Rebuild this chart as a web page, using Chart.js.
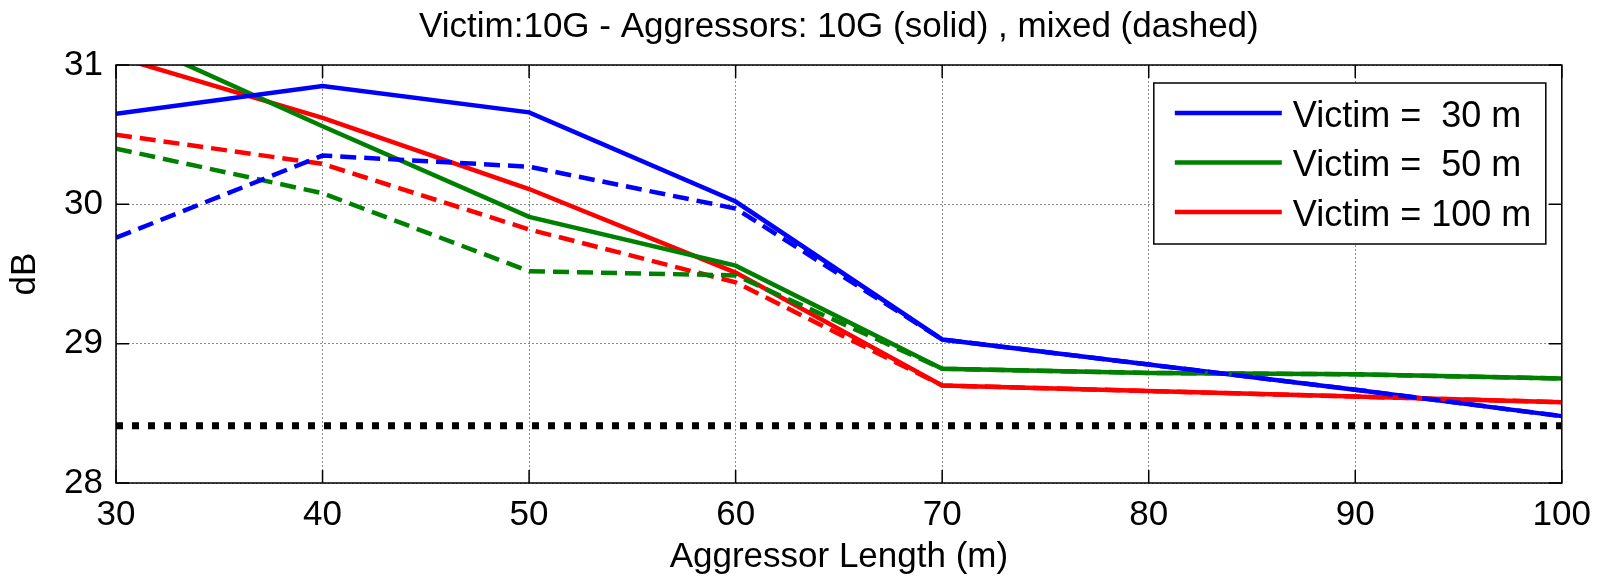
<!DOCTYPE html>
<html>
<head>
<meta charset="utf-8">
<script src="https://cdn.jsdelivr.net/npm/chart.js@4.4.1/dist/chart.umd.min.js"></script>
<style>
html, body { margin: 0; padding: 0; background: #fff; }
#wrap { width: 1602px; height: 578px; }
</style>
</head>
<body>
<div id="wrap"><canvas id="chart" width="1602" height="578"></canvas></div>
<script>
// aggressor length (m)
let lengths = [30, 40, 50, 60, 70, 80, 90, 100];

// 10G aggressors (solid)
let solid30 = [30.65, 30.85, 30.66, 30.02, 29.03, 28.85, 28.67, 28.48];
let solid50 = [31.23, 30.56, 29.91, 29.56, 28.82, 28.79, 28.78, 28.75];
let solid100 = [31.06, 30.62, 30.11, 29.51, 28.70, 28.66, 28.62, 28.58];

// mixed aggressors (dashed)
let mixed30 = [29.76, 30.35, 30.27, 29.97, 29.03, 28.85, 28.67, 28.48];
let mixed50 = [30.40, 30.08, 29.52, 29.49, 28.82, 28.79, 28.78, 28.75];
let mixed100 = [30.50, 30.29, 29.82, 29.44, 28.70, 28.66, 28.62, 28.58];

// limit line (dotted)
let limitLine = [28.41, 28.41, 28.41, 28.41, 28.41, 28.41, 28.41, 28.41];

let xTicks = [30, 40, 50, 60, 70, 80, 90, 100];
let yTicks = [28, 29, 30, 31];

let titleText = 'Victim:10G - Aggressors: 10G (solid) , mixed (dashed)';
let legendLabels = ['Victim =  30 m', 'Victim =  50 m', 'Victim = 100 m'];

const FONT = "'Liberation Sans', Arial, Helvetica, sans-serif";
Chart.defaults.font.family = FONT;
Chart.defaults.color = '#000';

function pts(vals) {
    return vals.map((v, i) => ({ x: lengths[i], y: v }));
}

function line(label, vals, color, dash, order, inLegend) {
    return {
        label: label,
        data: pts(vals),
        borderColor: color,
        backgroundColor: color,
        borderWidth: 4.5,
        borderDash: dash,
        pointRadius: 0,
        tension: 0,
        fill: false,
        clip: 0,
        order: order,
        inLegend: inLegend
    };
}

// matlab style: box, inward ticks, centered title and legend inside axes
const matlabPlugin = {
    id: 'matlabAxes',
    afterDatasetsDraw(chart) {
        let ctx = chart.ctx, a = chart.chartArea;
        let x = chart.scales.x, y = chart.scales.y;
        ctx.save();

        ctx.strokeStyle = '#000';
        ctx.lineWidth = 1.5;
        ctx.setLineDash([]);
        ctx.strokeRect(a.left, a.top, a.right - a.left, a.bottom - a.top);

        ctx.beginPath();
        xTicks.forEach(v => {
            let px = x.getPixelForValue(v);
            ctx.moveTo(px, a.bottom); ctx.lineTo(px, a.bottom - 13);
            ctx.moveTo(px, a.top); ctx.lineTo(px, a.top + 13);
        });
        yTicks.forEach(v => {
            let py = y.getPixelForValue(v);
            ctx.moveTo(a.left, py); ctx.lineTo(a.left + 13, py);
            ctx.moveTo(a.right, py); ctx.lineTo(a.right - 13, py);
        });
        ctx.stroke();

        // title
        ctx.fillStyle = '#000';
        ctx.font = '35px ' + FONT;
        ctx.textAlign = 'center';
        ctx.textBaseline = 'middle';
        ctx.fillText(titleText, (a.left + a.right) / 2, 27);

        // legend
        let bw = 392, bh = 161;
        let bx = a.right - 16 - bw, by = a.top + 18;
        ctx.fillStyle = '#fff';
        ctx.fillRect(bx, by, bw, bh);
        ctx.strokeStyle = '#000';
        ctx.lineWidth = 1.5;
        ctx.strokeRect(bx, by, bw, bh);

        ctx.font = '36px ' + FONT;
        let items = chart.data.datasets.filter(d => d.inLegend);
        items.forEach((d, i) => {
            let ly = by + 30 + i * 49.5;
            ctx.strokeStyle = d.borderColor;
            ctx.lineWidth = 4.5;
            ctx.beginPath();
            ctx.moveTo(bx + 21, ly);
            ctx.lineTo(bx + 128, ly);
            ctx.stroke();
            ctx.fillStyle = '#000';
            ctx.textAlign = 'left';
            ctx.textBaseline = 'middle';
            ctx.fillText(d.label, bx + 139, ly + 4);
        });

        ctx.restore();
    }
};

let ctx = document.getElementById('chart').getContext('2d');
let myChart = new Chart(ctx, {
    type: 'line',
    data: {
        datasets: [
            line(legendLabels[0], solid30, '#0000ff', [], 2, true),
            line(legendLabels[1], solid50, '#008000', [], 2, true),
            line(legendLabels[2], solid100, '#ff0000', [], 2, true),
            line('mixed 30', mixed30, '#0000ff', [16, 8], 1, false),
            line('mixed 50', mixed50, '#008000', [16, 8], 1, false),
            line('mixed 100', mixed100, '#ff0000', [16, 8], 1, false),
            Object.assign(line('limit', limitLine, '#000000', [7, 9], 0, false), { borderWidth: 7 })
        ]
    },
    options: {
        responsive: false,
        animation: false,
        devicePixelRatio: 1,
        layout: { padding: { top: 65, right: 38, left: 0, bottom: 0 } },
        plugins: {
            legend: { display: false },
            title: { display: false },
            tooltip: { enabled: false }
        },
        scales: {
            x: {
                type: 'linear',
                min: 30,
                max: 100,
                afterBuildTicks: s => { s.ticks = xTicks.map(v => ({ value: v })); },
                afterFit: s => { s.height = 95; },
                ticks: { font: { size: 35 }, padding: 11, maxRotation: 0, color: '#000' },
                grid: { drawTicks: false, color: '#8a8a8a', lineWidth: 1 },
                border: { display: false, dash: [2, 2] },
                title: { display: true, text: 'Aggressor Length (m)', font: { size: 35 }, padding: { top: 0, bottom: 0 }, color: '#000' }
            },
            y: {
                min: 28,
                max: 31,
                afterBuildTicks: s => { s.ticks = yTicks.map(v => ({ value: v })); },
                afterFit: s => { s.width = 116; },
                ticks: { font: { size: 35 }, padding: 13, color: '#000' },
                grid: { drawTicks: false, color: '#8a8a8a', lineWidth: 1 },
                border: { display: false, dash: [2, 2] },
                title: { display: true, text: 'dB', font: { size: 35 }, padding: { top: 4, bottom: 0 }, color: '#000' }
            }
        }
    },
    plugins: [matlabPlugin]
});
</script>
</body>
</html>
